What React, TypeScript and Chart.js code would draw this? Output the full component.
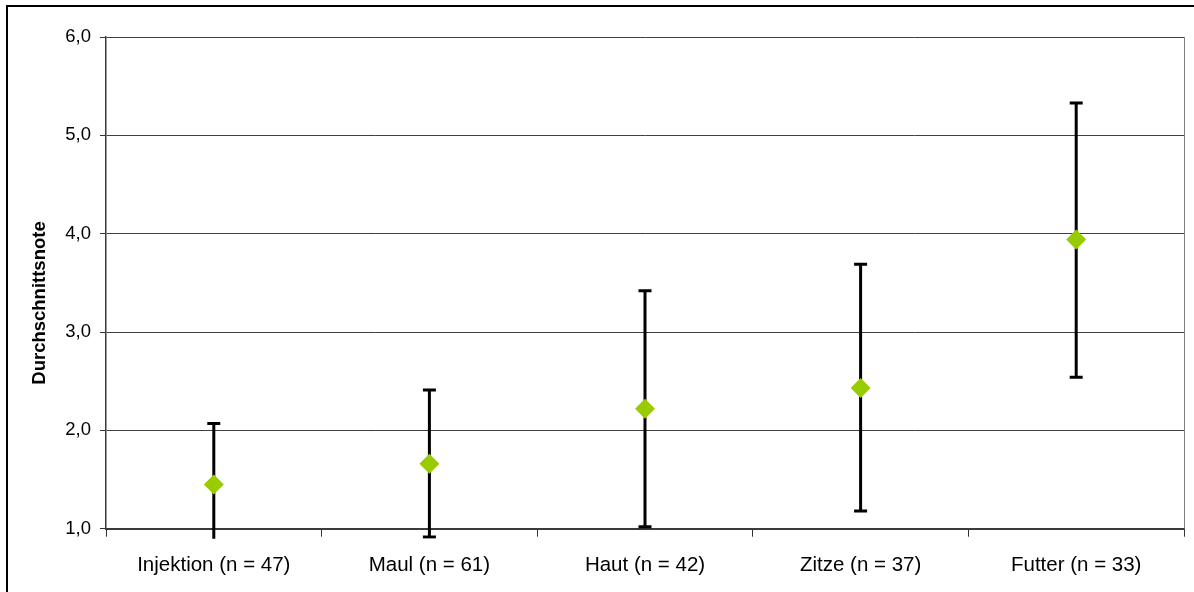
import React, { useEffect, useRef } from "react";
import { Chart, registerables } from "chart.js";

Chart.register(...registerables);

const categories = [
  "Injektion (n = 47)",
  "Maul (n = 61)",
  "Haut (n = 42)",
  "Zitze (n = 37)",
  "Futter (n = 33)",
];
const means = [1.45, 1.66, 2.22, 2.43, 3.94];
const upper = [2.07, 2.41, 3.42, 3.69, 5.33];
const lower = [0.86, 0.915, 1.02, 1.18, 2.54];
const yTicks = [1, 2, 3, 4, 5, 6];
const yTitle = "Durchschnittsnote";

const FONT = "'Liberation Sans', Arial, sans-serif";

const errorBarPlugin = {
  id: "errorBars",
  beforeDatasetsDraw(chart: any) {
    const { ctx, chartArea, scales } = chart;
    const xs = scales.x;
    const ys = scales.y;
    ctx.save();
    ctx.beginPath();
    ctx.rect(chartArea.left, chartArea.top - 30, chartArea.right - chartArea.left, chartArea.bottom - chartArea.top + 40);
    ctx.clip();
    ctx.strokeStyle = "#000";
    ctx.lineCap = "butt";
    for (let i = 0; i < categories.length; i++) {
      const x = xs.getPixelForValue(i);
      const yt = ys.getPixelForValue(upper[i]);
      const yb = ys.getPixelForValue(lower[i]);
      ctx.lineWidth = 3;
      ctx.beginPath();
      ctx.moveTo(x, yt);
      ctx.lineTo(x, yb);
      ctx.stroke();
      ctx.beginPath();
      ctx.moveTo(x - 6.5, yt);
      ctx.lineTo(x + 6.5, yt);
      ctx.moveTo(x - 6.5, yb);
      ctx.lineTo(x + 6.5, yb);
      ctx.stroke();
    }
    ctx.restore();
  },
  afterDraw(chart: any) {
    const { ctx, chartArea } = chart;
    ctx.save();
    // plot area right border
    ctx.strokeStyle = "#808080";
    ctx.lineWidth = 1;
    ctx.beginPath();
    ctx.moveTo(Math.round(chartArea.right) + 0.5, chartArea.top);
    ctx.lineTo(Math.round(chartArea.right) + 0.5, chartArea.bottom);
    ctx.stroke();
    // outer frame
    ctx.strokeStyle = "#000";
    ctx.lineWidth = 2;
    ctx.strokeRect(7, 6, chart.width + 10, chart.height + 10);
    // y axis title, centred on the whole chart frame like Excel
    ctx.translate(40, chart.height / 2 + 7);
    ctx.rotate(-Math.PI / 2);
    ctx.fillStyle = "#000";
    ctx.font = `bold 18.5px ${FONT}`;
    ctx.textAlign = "center";
    ctx.textBaseline = "middle";
    ctx.fillText(yTitle, 0, 0);
    ctx.restore();
  },
};

export default function App() {
  const ref = useRef<HTMLCanvasElement>(null);
  useEffect(() => {
    if (!ref.current) return;
    const chart = new Chart(ref.current, {
      type: "line",
      data: {
        labels: categories,
        datasets: [
          {
            data: means,
            showLine: false,
            pointStyle: "rectRot",
            pointRadius: 10,
            pointHoverRadius: 10,
            pointBackgroundColor: "#99CC00",
            pointBorderColor: "#99CC00",
            pointBorderWidth: 0,
          },
        ],
      },
      options: {
        responsive: false,
        animation: false,
        devicePixelRatio: 1,
        layout: { padding: { top: 37, right: 8, bottom: 0, left: 0 } },
        plugins: {
          legend: { display: false },
          tooltip: { enabled: false },
        },
        scales: {
          x: {
            type: "category",
            offset: true,
            grid: {
              offset: true,
              drawOnChartArea: false,
              drawTicks: true,
              tickLength: 8,
              tickColor: "#333",
              lineWidth: 1,
            },
            border: { display: true, color: "#3a3a3a", width: 2 },
            ticks: {
              color: "#000",
              font: { family: FONT, size: 20.5 },
              padding: 16,
              maxRotation: 0,
              autoSkip: false,
            },
            afterFit(scale: any) {
              scale.height = 63.3;
            },
          },
          y: {
            min: 1,
            max: 6,
            afterBuildTicks(scale: any) {
              scale.ticks = yTicks.map((v) => ({ value: v }));
            },
            grid: {
              color: "#404040",
              lineWidth: 1,
              drawTicks: true,
              tickLength: 6,
              tickColor: "#333",
            },
            border: { display: true, color: "#3a3a3a", width: 1.5 },
            ticks: {
              color: "#000",
              font: { family: FONT, size: 18.5 },
              padding: 9,
              callback: (v: any) => Number(v).toFixed(1).replace(".", ","),
            },
            afterFit(scale: any) {
              scale.width = 106;
            },
          },
        },
      },
      plugins: [errorBarPlugin],
    });
    return () => chart.destroy();
  }, []);
  return (
    <div style={{ position: "fixed", left: 0, top: 0, width: 1194, height: 592, background: "#fff" }}>
      <canvas ref={ref} width={1194} height={592} style={{ width: 1194, height: 592, display: "block" }} />
    </div>
  );
}
